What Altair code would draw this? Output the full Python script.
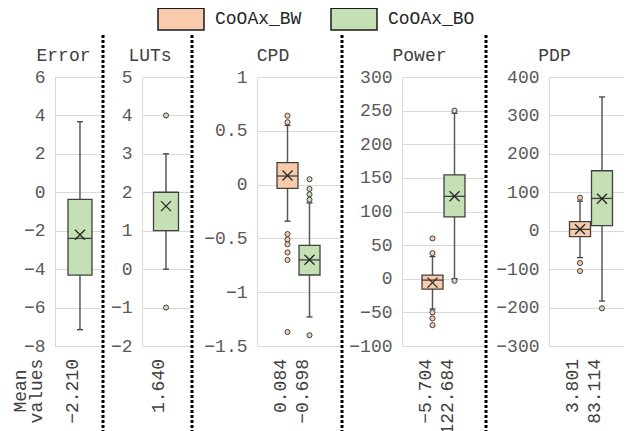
import altair as alt
import pandas as pd

FONT = "Liberation Mono"
SERIES = ["CoOAx_BW", "CoOAx_BO"]
FILL_COLORS = ["#F8CBAD", "#C5E0B4"]

panel_titles = ["Error", "LUTs", "CPD", "Power", "PDP"]
panel_series = [["CoOAx_BO"], ["CoOAx_BO"], SERIES, SERIES, SERIES]

whisker_low = [[-7.15], [0.0], [-0.34, -1.23], [-45.0, 0.0], [-70.0, -183.0]]
quartile_1 = [[-4.31], [1.0], [-0.035, -0.84], [-15.5, 92.0], [-15.5, 13.0]]
medians = [[-2.40], [2.0], [0.08, -0.70], [-2.0, 122.5], [3.5, 84.0]]
quartile_3 = [[-0.37], [2.0], [0.205, -0.565], [5.5, 154.5], [23.5, 156.0]]
whisker_high = [[3.67], [3.0], [0.55, -0.17], [33.0, 246.0], [77.0, 348.0]]
mean_values = [[-2.210], [1.640], [0.084, -0.698], [-5.704, 122.684], [3.801, 83.114]]
outliers = [
    [[]],
    [[4.0, -1.0]],
    [[0.64, 0.58, -0.46, -0.51, -0.555, -0.63, -0.70, -1.37],
     [0.05, -0.04, -0.09, -0.14, -1.40]],
    [[60.0, 38.0, -50.0, -59.0, -69.0], [250.0, -3.0]],
    [[86.0, -84.0, -105.0], [-202.0]],
]
y_ticks = [
    [-8, -6, -4, -2, 0, 2, 4, 6],
    [-2, -1, 0, 1, 2, 3, 4, 5],
    [-1.5, -1, -0.5, 0, 0.5, 1],
    [-100, -50, 0, 50, 100, 150, 200, 250, 300],
    [-300, -200, -100, 0, 100, 200, 300, 400],
]
mean_caption = ["Mean", "values"]

# layout (pixels)
H = 269
widths = [46, 48, 83, 83, 84]
left_extent = [47, 37, 63, 58, 60]
right_extent = [50, 52, 87, 87, 84]
separator_x = [48, 50, 85, 84, None]
title_x = [8.5, 8, 16, 17.5, 5.5]
box_size = [24, 25, 21, 21, 21]
box_step = [24, 25, 22, 22, 22]
x_align = [0.59, 0.5, 0.5, 0.5, 0.5]

CROSS = "M-1,-1L1,1M-1,1L1,-1"
legend = alt.Legend(
    orient="none", legendX=102, legendY=-82, direction="horizontal", title=None,
    symbolType="M-1,-0.47L1,-0.47L1,0.47L-1,0.47Z", symbolSize=2116,
    symbolStrokeWidth=1.5, symbolStrokeColor="#1a1a1a",
    labelFont=FONT, labelFontSize=18, labelColor="#262626",
    labelOffset=10, columnPadding=26, padding=0,
)
fill_scale = alt.Scale(domain=SERIES, range=FILL_COLORS)


def make_panel(i):
    w = widths[i]
    n = len(panel_series[i])
    stats = pd.DataFrame({
        "series": panel_series[i],
        "lo": whisker_low[i], "q1": quartile_1[i], "med": medians[i],
        "q3": quartile_3[i], "hi": whisker_high[i], "mean": mean_values[i],
    })
    out_rows = [{"series": s, "value": v}
                for s, vals in zip(panel_series[i], outliers[i]) for v in vals]
    step = box_step[i]
    po = (w / step - n) / 2
    xs = alt.Scale(domain=panel_series[i], paddingInner=0, paddingOuter=po, align=x_align[i])
    ys = alt.Scale(domain=[y_ticks[i][0], y_ticks[i][-1]], nice=False, zero=False)
    yaxis = alt.Axis(values=y_ticks[i], title=None, format="~r", grid=True,
                     gridColor="#D9D9D9", gridWidth=1, domain=True, domainColor="#D9D9D9",
                     ticks=False, labelFont=FONT, labelFontSize=18, labelColor="#595959",
                     labelPadding=10, labelOverlap=False)
    X = alt.X("series:N", scale=xs, axis=None)

    def Y(f):
        return alt.Y(f, type="quantitative", scale=ys, axis=yaxis)

    F = alt.Fill("series:N", scale=fill_scale, legend=legend)
    base = alt.Chart(stats)
    layers = [
        base.mark_rule(color="#595959", strokeWidth=1.5).encode(x=X, y=Y("lo"), y2="hi"),
        base.mark_bar(size=box_size[i], stroke="#404040", strokeWidth=1.3, opacity=1).encode(
            x=X, y=Y("q1"), y2="q3", fill=F),
        base.mark_tick(size=box_size[i], thickness=1.3, color="#404040", opacity=1).encode(x=X, y=Y("med")),
        base.mark_tick(size=6, thickness=1.3, color="#404040", opacity=1).encode(x=X, y=Y("lo")),
        base.mark_tick(size=6, thickness=1.3, color="#404040", opacity=1).encode(x=X, y=Y("hi")),
    ]
    if out_rows:
        layers.append(
            alt.Chart(pd.DataFrame(out_rows)).mark_point(
                shape="circle", filled=True, size=26, stroke="#404040", strokeWidth=1, opacity=1
            ).encode(x=X, y=Y("value"), fill=F)
        )
    layers += [
        base.mark_point(shape=CROSS, size=100, filled=False, color="#262626", strokeWidth=1.3,
                        opacity=1).encode(x=X, y=Y("mean")),
        base.mark_text(angle=270, align="right", baseline="alphabetic", dy=-2, font=FONT,
                       fontSize=18, color="#404040").encode(
            x=X, y=alt.value(H + 13), text=alt.Text("mean:Q", format=".3f")),
        alt.Chart(pd.DataFrame({"title": [panel_titles[i]]})).mark_text(
            font=FONT, fontSize=18, color="#404040", baseline="middle", align="center"
        ).encode(x=alt.value(title_x[i]), y=alt.value(-21), text="title:N"),
        alt.Chart(pd.DataFrame({"b": [0]})).mark_rule(opacity=0).encode(
            x=alt.value(-left_extent[i]), y=alt.value(-42), y2=alt.value(H + 60)),
        alt.Chart(pd.DataFrame({"b": [0]})).mark_rule(opacity=0).encode(
            x=alt.value(right_extent[i]), y=alt.value(-42), y2=alt.value(H + 60)),
    ]
    if separator_x[i] is not None:
        layers.append(
            alt.Chart(pd.DataFrame({"b": [0]})).mark_rule(
                strokeDash=[3, 2], strokeWidth=3, color="black"
            ).encode(x=alt.value(separator_x[i]), y=alt.value(-42), y2=alt.value(H + 92))
        )
    if i == 0:
        layers.append(
            alt.Chart(pd.DataFrame({"b": [0]})).mark_text(
                angle=270, align="center", baseline="alphabetic", font=FONT, fontSize=18,
                color="#404040", lineHeight=16.5
            ).encode(x=alt.value(-29.5), y=alt.value(H + 45), text=alt.value(mean_caption))
        )
    return alt.layer(*layers).properties(width=w, height=H)


panels = [make_panel(i) for i in range(5)]
chart = alt.hconcat(*panels, spacing=0).properties(
    padding={"left": 0, "top": -13, "right": -9, "bottom": -7},
    background="white",
).configure_view(stroke=None)

chart.save("out.html", embed_options={"renderer": "svg", "actions": False})
